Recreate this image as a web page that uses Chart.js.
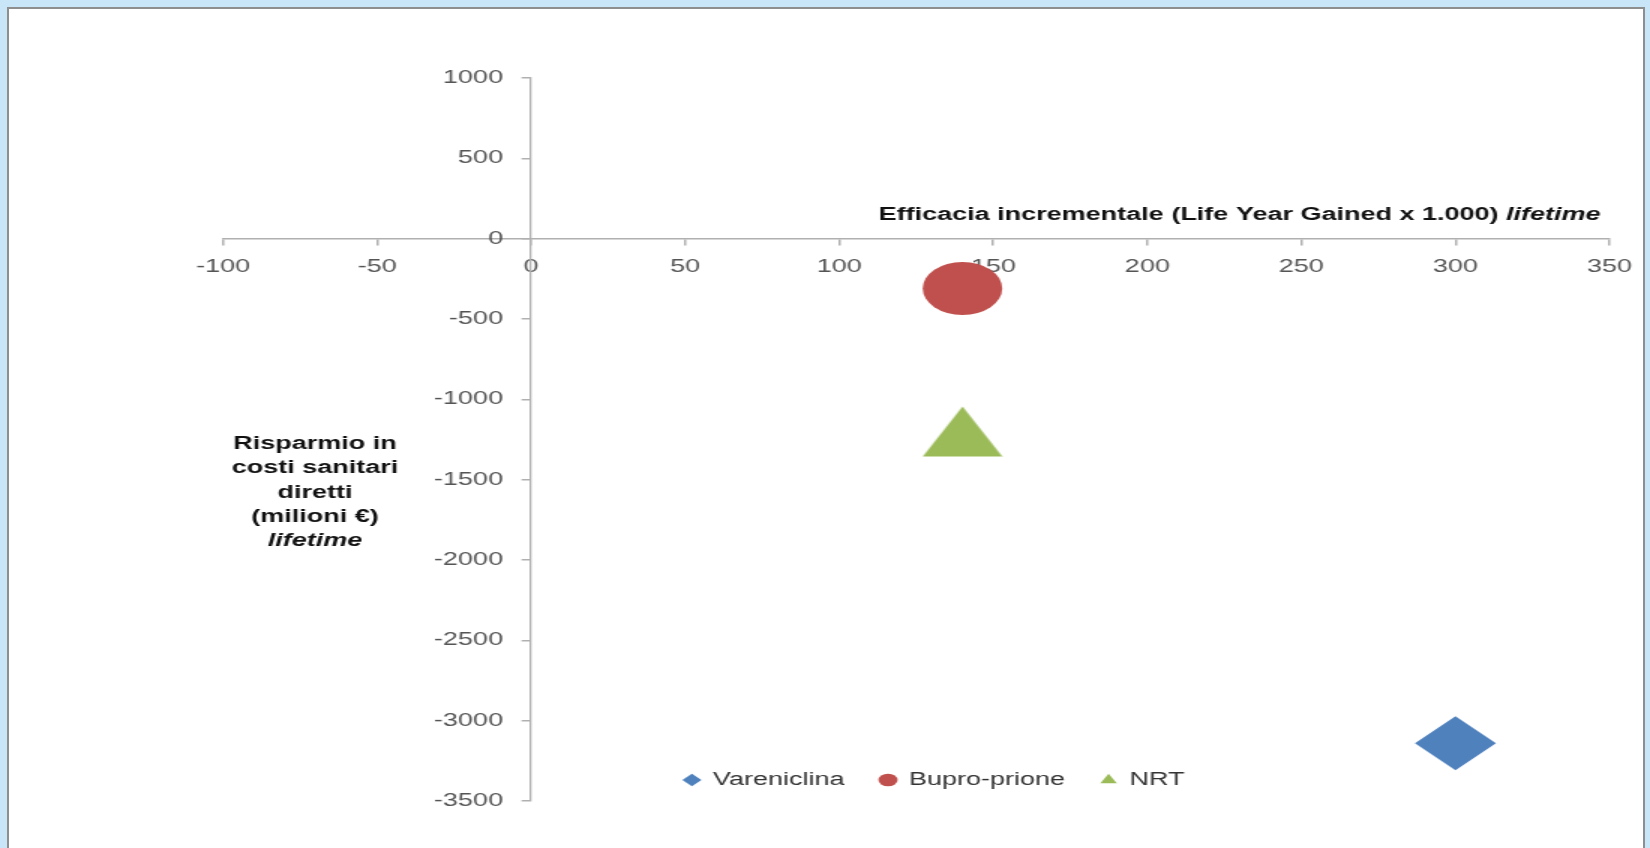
<!DOCTYPE html>
<html>
<head>
<meta charset="utf-8">
<script src="https://cdn.jsdelivr.net/npm/chart.js@4.4.1/dist/chart.umd.min.js"></script>
<style>
    html, body { margin: 0; padding: 0; width: 1650px; height: 848px; overflow: hidden; background: #c8e6f8; }
    .panel { position: absolute; left: 7px; top: 7px; width: 1634px; height: 860px; background: #fff; border: 2px solid #8e8e8e; }
    /* chart is laid out at 2/3 width and stretched back out */
    .stage { position: absolute; left: 0; top: 0; width: 1100px; height: 900px; transform: scaleX(1.5); transform-origin: 0 0; }
</style>
</head>
<body>
<div class="panel"></div>
<div class="stage"><canvas id="icerChart"></canvas></div>
<script>
const seriesNames = ['Vareniclina', 'Bupro-prione', 'NRT'];
const efficacyValues = [300, 140, 140];        // life years gained x 1.000
const savingsValues = [-3140, -310, -1200];    // milioni €
const seriesColors = ['#4f81bd', '#c0504d', '#9bbb59'];
const xRange = [-100, 350];
const yRange = [-3500, 1000];
const xTitle = 'Efficacia incrementale (Life Year Gained x 1.000) ';
const xTitleItalic = 'lifetime';
const yTitleLines = ['Risparmio in', 'costi sanitari', 'diretti', '(milioni €)'];
const yTitleItalic = 'lifetime';

Chart.defaults.font.family = "'Liberation Sans', Arial, sans-serif";
Chart.defaults.font.size = 18;
Chart.defaults.color = '#555';

//..triangle marker centred on its box, like the spreadsheet one
const triangle = document.createElement('canvas');
triangle.width = 54;
triangle.height = 51;
const tctx = triangle.getContext('2d');
tctx.fillStyle = seriesColors[2];
tctx.beginPath();
tctx.moveTo(0.5, 50.5);
tctx.lineTo(27, 0.5);
tctx.lineTo(53.5, 50.5);
tctx.closePath();
tctx.fill();

const pointStyles = ['rectRot', 'circle', triangle];
const legendStyles = ['rectRot', 'circle', 'triangle'];

const datasets = seriesNames.map((name, i) => ({
    label: name,
    data: [{ x: efficacyValues[i], y: savingsValues[i] }],
    backgroundColor: seriesColors[i],
    borderColor: seriesColors[i],
    borderWidth: 0,
    pointStyle: pointStyles[i],
    pointRadius: [27, 26.5, 27][i]
}));

//..move the legend up into the plot, push y labels off the axis, write the axis titles
const extras = {
    id: 'extras',
    afterLayout(chart) {
        const lg = chart.legend;
        lg.top -= 54;
        lg.bottom -= 54;
        lg.left += 12;
        lg.right += 12;
    },
    beforeDraw(chart) {
        const items = chart.scales.y.getLabelItems();
        if (!items.shifted) {
            items.forEach(it => { it.options.translation[0] -= 18.7; });
            items.shifted = true;
        }
    },
    afterDraw(chart) {
        const ctx = chart.ctx;
        ctx.save();
        ctx.fillStyle = '#111';
        ctx.textBaseline = 'middle';

        const bold = "bold 18px 'Liberation Sans', Arial, sans-serif";
        const boldItalic = "italic bold 18px 'Liberation Sans', Arial, sans-serif";

        // x title, right aligned above the axis
        ctx.font = boldItalic;
        const wi = ctx.measureText(xTitleItalic).width;
        ctx.textAlign = 'right';
        ctx.fillText(xTitleItalic, 1067, 215);
        ctx.font = bold;
        ctx.fillText(xTitle, 1067 - wi, 215);

        // y title, centred block left of the axis
        ctx.textAlign = 'center';
        yTitleLines.forEach((line, i) => {
            ctx.fillText(line, 210, 444 + i * 24.3);
        });
        ctx.font = boldItalic;
        ctx.fillText(yTitleItalic, 210, 444 + yTitleLines.length * 24.3);
        ctx.restore();
    }
};

new Chart(document.getElementById('icerChart'), {
    type: 'scatter',
    data: { datasets },
    options: {
        responsive: true,
        maintainAspectRatio: false,
        animation: false,
        events: [],
        layout: {
            padding: { left: 148.7, right: 26.7, top: 78, bottom: 47 }
        },
        plugins: {
            tooltip: { enabled: false },
            legend: {
                position: 'bottom',
                labels: {
                    usePointStyle: true,
                    boxWidth: 10,
                    boxHeight: 9,
                    padding: 24,
                    color: '#333',
                    generateLabels(chart) {
                        const labels = Chart.defaults.plugins.legend.labels.generateLabels(chart);
                        labels.forEach((label, i) => {
                            label.pointStyle = legendStyles[i];
                        });
                        return labels;
                    }
                }
            }
        },
        scales: {
            x: {
                type: 'linear',
                position: { y: 0 },
                min: xRange[0],
                max: xRange[1],
                z: 1,
                ticks: { stepSize: 50, padding: 12, color: '#555', format: { useGrouping: false } },
                grid: { drawOnChartArea: false, tickLength: 6, color: '#b0b0b0', lineWidth: 1.5 },
                border: { color: '#b0b0b0', width: 1.5 }
            },
            y: {
                type: 'linear',
                position: { x: 0 },
                min: yRange[0],
                max: yRange[1],
                ticks: { stepSize: 500, padding: 13, color: '#555', format: { useGrouping: false } },
                grid: { drawOnChartArea: false, tickLength: 5.3, color: '#b0b0b0', lineWidth: 1.5 },
                border: { color: '#b0b0b0', width: 1.3 }
            }
        }
    },
    plugins: [extras]
});
</script>
</body>
</html>
